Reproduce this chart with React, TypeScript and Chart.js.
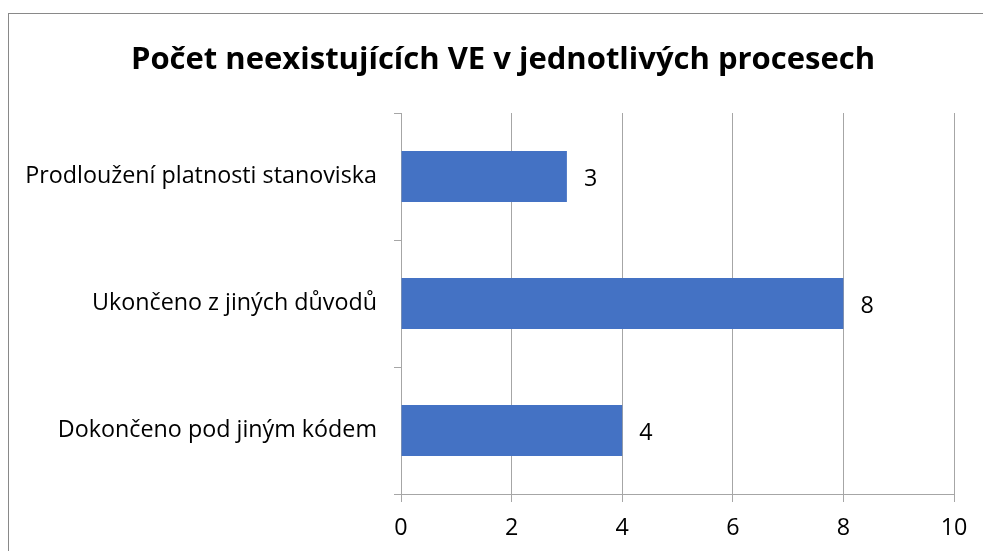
import React, { useEffect, useRef } from "react";
import { Chart, registerables } from "chart.js";

Chart.register(...registerables);

const titleText = "Počet neexistujících VE v jednotlivých procesech";
const categories = [
  "Prodloužení platnosti stanoviska",
  "Ukončeno z jiných důvodů",
  "Dokončeno pod jiným kódem",
];
const values = [3, 8, 4];
const xMin = 0;
const xMax = 10;
const xStep = 2;

const FONT = "'Open Sans', sans-serif";
const LABEL_SIZE = 23.3;
const TITLE_SIZE = 31;

const framePlugin = {
  id: "frame",
  beforeDraw(chart: any) {
    const ctx = chart.ctx;
    ctx.save();
    ctx.fillStyle = "#ffffff";
    ctx.fillRect(0, 0, chart.width, chart.height);
    ctx.strokeStyle = "#898989";
    ctx.lineWidth = 1;
    ctx.strokeRect(8.5, 13.5, 3000, 3000);
    ctx.restore();
  },
  afterDraw(chart: any) {
    const ctx = chart.ctx;
    ctx.save();
    ctx.font = `bold ${TITLE_SIZE}px ${FONT}`;
    ctx.fillStyle = "#000000";
    ctx.textAlign = "center";
    ctx.textBaseline = "alphabetic";
    ctx.fillText(titleText, 503, 69);
    ctx.restore();
  },
};

const valueLabelPlugin = {
  id: "valueLabels",
  afterDatasetsDraw(chart: any) {
    const ctx = chart.ctx;
    const meta = chart.getDatasetMeta(0);
    ctx.save();
    ctx.font = `${LABEL_SIZE}px ${FONT}`;
    ctx.fillStyle = "#000000";
    ctx.textAlign = "left";
    ctx.textBaseline = "alphabetic";
    meta.data.forEach((bar: any, i: number) => {
      ctx.fillText(String(chart.data.datasets[0].data[i]), bar.x + 17, bar.y + 9);
    });
    ctx.restore();
  },
};

export default function App() {
  const ref = useRef<HTMLCanvasElement | null>(null);
  useEffect(() => {
    if (!ref.current) return;
    const chart = new Chart(ref.current, {
      type: "bar",
      data: {
        labels: categories,
        datasets: [
          {
            data: values,
            backgroundColor: "#4472C4",
            borderWidth: 0,
            categoryPercentage: 1,
            barPercentage: 0.4,
          },
        ],
      },
      options: {
        indexAxis: "y",
        animation: false,
        responsive: false,
        devicePixelRatio: 1,
        layout: { padding: { left: 22, right: 29, top: 113, bottom: 0 } },
        plugins: {
          legend: { display: false },
          tooltip: { enabled: false },
          title: { display: false },
        },
        scales: {
          x: {
            type: "linear",
            min: xMin,
            max: xMax,
            ticks: {
              stepSize: xStep,
              color: "#000000",
              font: { family: FONT, size: LABEL_SIZE },
              padding: 12,
            },
            grid: {
              color: "#a6a6a6",
              tickLength: 8,
              drawTicks: true,
            },
            border: { display: true, color: "#a6a6a6" },
            afterFit(scale: any) {
              scale.height = 57;
            },
          },
          y: {
            type: "category",
            offset: true,
            ticks: {
              color: "#000000",
              font: { family: FONT, size: LABEL_SIZE },
              padding: 17,
            },
            grid: {
              offset: true,
              drawOnChartArea: false,
              drawTicks: true,
              tickLength: 7,
              color: "#a6a6a6",
            },
            border: { display: true, color: "#a6a6a6" },
            afterFit(scale: any) {
              scale.width = 379;
            },
          },
        },
      },
      plugins: [framePlugin, valueLabelPlugin],
    });
    return () => chart.destroy();
  }, []);
  return (
    <div style={{ position: "fixed", left: 0, top: 0, width: 983, height: 551 }}>
      <canvas ref={ref} width={983} height={551} style={{ display: "block" }} />
    </div>
  );
}
